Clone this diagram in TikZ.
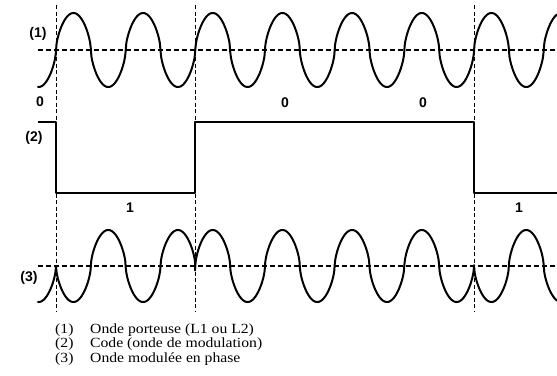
\documentclass[tikz,border=0pt]{standalone}
\usepackage{fontspec}
\setmainfont{Liberation Serif}
\setsansfont{Liberation Sans}
\newfontfamily\legfont[FakeStretch=1.12]{Liberation Serif}
\begin{document}
\begin{tikzpicture}[x=1pt,y=-1pt,
  declare function={cw(\t)=(sin(\t)>=0 ? 1 : -1)*pow(abs(sin(\t))+0.0002,0.6);},
  wave/.style={line width=2pt, line join=round, line cap=round},
  vguide/.style={line width=1pt, dash pattern=on 4pt off 2.5pt},
  hguide/.style={line width=1.1pt, dash pattern=on 5pt off 3pt},
  lab/.style={font=\sffamily\bfseries\fontsize{14}{14}\selectfont, inner sep=0pt},
  leg/.style={font=\legfont\fontsize{14}{14}\selectfont, inner sep=0pt, anchor=base west}]
\useasboundingbox (0,0) rectangle (557,375);
% guides
\foreach \gx in {56,195,474} \draw[vguide] (\gx,5) -- (\gx,312);
\draw[hguide] (38,50) -- (557,50);
\draw[hguide] (38,266) -- (557,266);
% (1) carrier
\draw[wave] plot[domain=38:557, samples=700, smooth] (\x, {50 - 37*cw(5.16722*(\x-56))});
% (2) code
\draw[wave, line cap=butt] (38,122) -- (56,122) -- (56,193) -- (195,193) -- (195,122) -- (474,122) -- (474,193) -- (557,193);
% (3) phase modulated
\draw[wave] plot[domain=38:56, samples=40, smooth] (\x, {266 - 36*cw(5.16722*(\x-56))})
  -- plot[domain=56:195, samples=250, smooth] (\x, {266 + 36*cw(5.16722*(\x-56))})
  -- plot[domain=195:474, samples=450, smooth] (\x, {266 - 36*cw(5.16722*(\x-56))})
  -- plot[domain=474:557, samples=150, smooth] (\x, {266 + 36*cw(5.16722*(\x-56))});
% labels
\node[lab] (l1) at (38,34) {(1)};
\node[lab] (l2) at (34,138) {(2)};
\node[lab] (l3) at (29,278) {(3)};
\node[lab] (b0a) at (40,102) {0};
\node[lab] (b0b) at (285,103) {0};
\node[lab] (b0c) at (423,103) {0};
\node[lab] (b1a) at (130,208) {1};
\node[lab] (b1b) at (519,208) {1};
% legend
\node[leg] (k1) at (55,333) {(1)};
\node[leg] (t1) at (90,333) {Onde porteuse (L1 ou L2)};
\node[leg] (k2) at (55,347.7) {(2)};
\node[leg] (t2) at (90,347.7) {Code (onde de modulation)};
\node[leg] (k3) at (55,362.4) {(3)};
\node[leg] (t3) at (90,362.4) {Onde modulée en phase};
\end{tikzpicture}
\end{document}
